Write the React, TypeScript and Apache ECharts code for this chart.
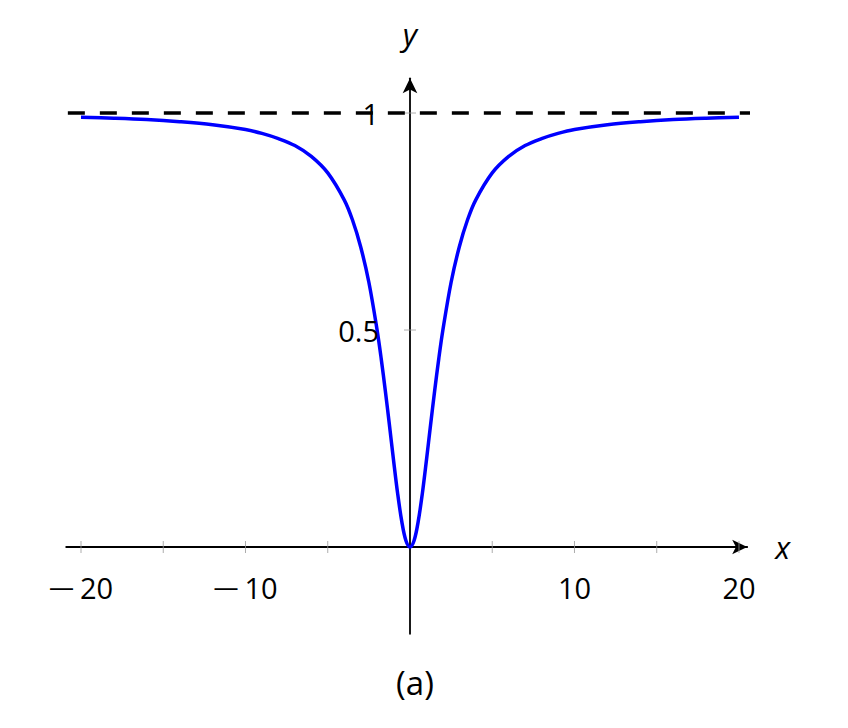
import React, { useEffect, useRef } from "react";
import * as echarts from "echarts";

const curveX = [
  -20, -18, -16, -14, -12, -10, -9, -8, -7, -6, -5, -4, -3.5, -3, -2.5, -2, -1.75, -1.5, -1.25, -1, -0.75, -0.5, -0.25,
  0, 0.25, 0.5, 0.75, 1, 1.25, 1.5, 1.75, 2, 2.5, 3, 3.5, 4, 5, 6, 7, 8, 9, 10, 12, 14, 16, 18, 20,
];
const curveY = [
  0.99, 0.988, 0.985, 0.98, 0.973, 0.962, 0.953, 0.941, 0.925, 0.9, 0.862, 0.8, 0.754, 0.692, 0.61, 0.5, 0.434, 0.36, 0.281, 0.2, 0.123, 0.059, 0.015,
  0, 0.015, 0.059, 0.123, 0.2, 0.281, 0.36, 0.434, 0.5, 0.61, 0.692, 0.754, 0.8, 0.862, 0.9, 0.925, 0.941, 0.953, 0.962, 0.973, 0.98, 0.985, 0.988, 0.99,
];
const asymptoteX = [-20.8, 20.7];
const asymptoteY = [1, 1];
const xTickValues = [-20, -15, -10, -5, 5, 10, 15, 20];
const xLabelValues = [-20, -10, 10, 20];
const yTickValues = [0.5, 1];
const yLabelValues = [0.5, 1];
const caption = "(a)";

const FONT = "Open Sans";

export default function App() {
  const ref = useRef<HTMLDivElement>(null);
  useEffect(() => {
    if (!ref.current) return;
    const chart = echarts.init(ref.current, null, { renderer: "svg" });
    const fmt = (v: number) => (v < 0 ? "{m|\u2014}{n|" + String(Math.abs(v)) + "}" : "{n|" + String(v) + "}");
    chart.setOption({
      animation: false,
      backgroundColor: "#fff",
      grid: { left: 66.2, top: 78.3, width: 681, height: 555.5, containLabel: false, outerBoundsMode: "none" },
      xAxis: {
        type: "value",
        min: -20.9,
        max: 20.5,
        name: "x",
        nameLocation: "end",
        nameGap: 28,
        nameTextStyle: { fontFamily: FONT, fontStyle: "italic", fontSize: 31, color: "#000", verticalAlign: "middle" },
        splitLine: { show: false },
        axisTick: { show: false },
        axisLabel: { show: false },
        axisLine: {
          onZero: true,
          symbol: ["none", "arrow"],
          symbolSize: [11, 15],
          lineStyle: { color: "#000", width: 1.8 },
        },
      },
      yAxis: {
        type: "value",
        min: -0.2,
        max: 1.08,
        name: "y",
        nameLocation: "end",
        nameGap: 29,
        nameTextStyle: { fontFamily: FONT, fontStyle: "italic", fontSize: 31, color: "#000", align: "center" },
        splitLine: { show: false },
        axisTick: { show: false },
        axisLabel: { show: false },
        axisLine: {
          onZero: true,
          symbol: ["none", "arrow"],
          symbolSize: [11, 15],
          lineStyle: { color: "#000", width: 1.8 },
        },
      },
      series: [
        {
          type: "scatter",
          data: xTickValues.map((v) => [v, 0]),
          symbol: "rect",
          symbolSize: [1, 12],
          itemStyle: { color: "#999" },
          silent: true,
          z: 1,
        },
        {
          type: "scatter",
          data: yTickValues.map((v) => [0, v]),
          symbol: "rect",
          symbolSize: [12, 1],
          itemStyle: { color: "#999" },
          silent: true,
          z: 1,
        },
        {
          type: "line",
          data: asymptoteX.map((x, i) => [x, asymptoteY[i]]),
          showSymbol: false,
          clip: false,
          lineStyle: { color: "#000", width: 3.5, type: [17, 15] },
          z: 3,
        },
        {
          type: "line",
          data: curveX.map((x, i) => [x, curveY[i]]),
          showSymbol: false,
          smooth: 0.35,
          lineStyle: { color: "#0000ff", width: 3.5 },
          z: 4,
        },
      ],
    });

    const graphics: any[] = [];
    xLabelValues.forEach((v) => {
      const [px, py] = chart.convertToPixel({ gridIndex: 0 }, [v, 0]) as number[];
      graphics.push({
        type: "text",
        x: px,
        y: py + 26,
        z: 10,
        style: {
          text: fmt(v),
          fontFamily: FONT,
          fontSize: 29,
          fill: "#000",
          align: "center",
          verticalAlign: "top",
          rich: {
            m: { fontFamily: FONT, fontSize: 25, fill: "#000", padding: [0, 6, 4, 0] },
            n: { fontFamily: FONT, fontSize: 29, fill: "#000" },
          },
        },
      });
    });
    yLabelValues.forEach((v) => {
      const [px, py] = chart.convertToPixel({ gridIndex: 0 }, [0, v]) as number[];
      graphics.push({
        type: "text",
        x: px - 31,
        y: py,
        z: 10,
        style: {
          text: String(v),
          fontFamily: FONT,
          fontSize: 29,
          fill: "#000",
          align: "right",
          verticalAlign: "middle",
        },
      });
    });
    graphics.push({
      type: "text",
      x: 415,
      y: 682,
      style: {
        text: caption,
        fontFamily: FONT,
        fontSize: 33,
        fill: "#000",
        align: "center",
        verticalAlign: "middle",
      },
    });
    chart.setOption({ graphic: graphics });
    return () => chart.dispose();
  }, []);
  return <div ref={ref} style={{ position: "fixed", left: 0, top: 0, width: 848, height: 728 }} />;
}
